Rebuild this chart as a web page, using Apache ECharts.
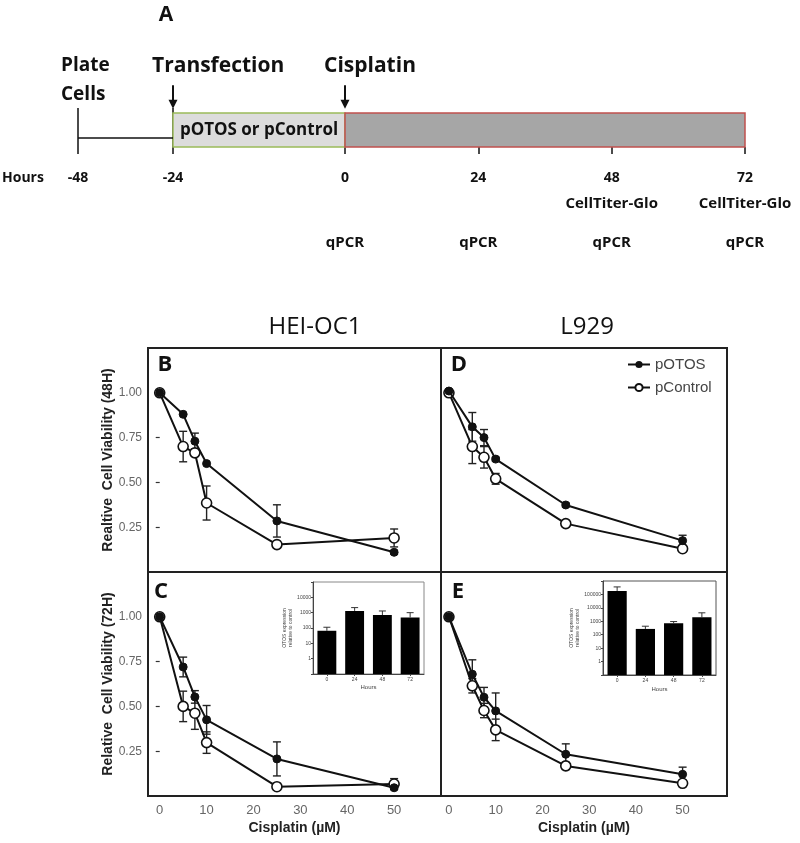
<!DOCTYPE html>
<html><head><meta charset="utf-8">
<script src="https://cdn.jsdelivr.net/npm/echarts@6/dist/echarts.min.js"></script>
<style>html,body{margin:0;padding:0;background:#fff}#c{width:800px;height:843px}</style>
</head><body><div id="c"></div>
<script>
// ---------- Panel A: timeline ----------
const timelineHours = [-48, -24, 0, 24, 48, 72];
const phaseLabels = ['pOTOS or pControl', ''];
const phaseFrom = [-24, 0];
const phaseTo = [0, 72];
const arrowHours = [-24, 0];
const plateHour = -48;
const cellTiterHours = [48, 72];
const qpcrHours = [0, 24, 48, 72];

// ---------- Panels B-E: viability ----------
const doses = [0, 5, 7.5, 10, 25, 50];
const hei48Potos = [1.00, 0.88, 0.73, 0.605, 0.285, 0.11];
const hei48PotosErr = [0, 0, 0.045, 0, 0.09, 0.01];
const hei48Ctrl = [1.00, 0.70, 0.665, 0.385, 0.153, 0.19];
const hei48CtrlErr = [0, 0.085, 0.02, 0.095, 0.01, 0.05];

const l48Potos = [1.01, 0.81, 0.75, 0.63, 0.374, 0.175];
const l48PotosErr = [0, 0.08, 0.045, 0.01, 0.01, 0.03];
const l48Ctrl = [1.00, 0.70, 0.64, 0.52, 0.27, 0.13];
const l48CtrlErr = [0, 0.095, 0.06, 0.03, 0.01, 0.01];

const hei72Potos = [1.00, 0.72, 0.553, 0.425, 0.207, 0.046];
const hei72PotosErr = [0, 0.055, 0.035, 0.08, 0.095, 0.01];
const hei72Ctrl = [1.00, 0.50, 0.462, 0.298, 0.052, 0.067];
const hei72CtrlErr = [0, 0.085, 0.09, 0.06, 0.01, 0.03];

const l72Potos = [1.00, 0.68, 0.551, 0.475, 0.233, 0.121];
const l72PotosErr = [0, 0.08, 0.055, 0.10, 0.058, 0.04];
const l72Ctrl = [1.00, 0.615, 0.477, 0.369, 0.168, 0.071];
const l72CtrlErr = [0, 0.04, 0.04, 0.06, 0.02, 0.01];

const doseTicks = [0, 10, 20, 30, 40, 50];
const viabilityTicks = [0.25, 0.50, 0.75, 1.00];

// ---------- Insets: OTOS expression ----------
const insetHours = ['0', '24', '48', '72'];
const heiInset = [66, 1300, 700, 490];
const heiInsetErr = [46, 840, 590, 510];
const l929Inset = [182000, 270, 720, 2000];
const l929InsetErr = [181000, 160, 235, 2270];

// ---------- layout / style constants ----------
const BOX_TOP_V = 0.554, BOX_BOT_V = 0.095, LINE_V = 0.216, ARROW_TOP_V = 0.93, ARROW_BOT_V = 0.61;
const TLF = '"Open Sans", "DejaVu Sans", sans-serif';
const PF = '"Liberation Sans", Arial, sans-serif';

const chart = echarts.init(document.getElementById('c'), null, {renderer: 'canvas'});

function tlLabel(show) {
  return {
    show: true, showMinLabel: true, showMaxLabel: true, margin: 12,
    formatter: function (v) {
      if (!show.includes(v)) return '';
      const lines = ['{a|' + v + '}'];
      lines.push(cellTiterHours.includes(v) ? '{b|CellTiter-Glo}' : '{b| }');
      if (qpcrHours.includes(v)) lines.push('{c|qPCR}');
      return lines.join('\n');
    },
    rich: {
      a: {fontFamily: TLF, fontWeight: 'bold', fontSize: 14, lineHeight: 25, color: '#111'},
      b: {fontFamily: TLF, fontWeight: 'bold', fontSize: 15, lineHeight: 25, color: '#111'},
      c: {fontFamily: TLF, fontWeight: 'bold', fontSize: 15, lineHeight: 53, color: '#111'}
    }
  };
}

function phaseRender(i, fill, stroke) {
  return function (params, api) {
    const a = api.coord([api.value(0), BOX_TOP_V]);
    const b = api.coord([api.value(1), BOX_BOT_V]);
    return {
      type: 'rect',
      shape: {x: a[0], y: a[1], width: b[0] - a[0], height: b[1] - a[1]},
      style: {fill: fill, stroke: stroke, lineWidth: 1.5},
      textContent: {style: {text: phaseLabels[i], fontFamily: TLF, fontWeight: 'bold', fontSize: 17, fill: '#111'}},
      textConfig: {position: 'inside'}
    };
  };
}

function arrowRender(params, api) {
  const h = api.value(0);
  const t = api.coord([h, ARROW_TOP_V]);
  const b = api.coord([h, ARROW_BOT_V]);
  return {
    type: 'group', children: [
      {type: 'line', shape: {x1: t[0], y1: t[1], x2: b[0], y2: b[1] - 6}, style: {stroke: '#111', lineWidth: 2}},
      {type: 'polygon', shape: {points: [[b[0] - 4.5, b[1] - 9], [b[0] + 4.5, b[1] - 9], [b[0], b[1]]]}, style: {fill: '#111'}}
    ]
  };
}

function errRender(params, api) {
  const x = api.value(0), y = api.value(1), e = api.value(2);
  if (!e) return null;
  const p1 = api.coord([x, y + e]), p2 = api.coord([x, y - e]);
  const w = 4, st = {stroke: '#222', lineWidth: 1.4};
  return {type: 'group', children: [
    {type: 'line', shape: {x1: p1[0], y1: p1[1], x2: p2[0], y2: p2[1]}, style: st},
    {type: 'line', shape: {x1: p1[0] - w, y1: p1[1], x2: p1[0] + w, y2: p1[1]}, style: st},
    {type: 'line', shape: {x1: p2[0] - w, y1: p2[1], x2: p2[0] + w, y2: p2[1]}, style: st}
  ]};
}

function insetBarRender(minV) {
  return function (params, api) {
    const i = api.value(0), v = api.value(1), e = api.value(2);
    const c0 = api.coord([0, v])[0], c1 = api.coord([1, v])[0];
    const bw = (c1 - c0) * 0.68;
    const top = api.coord([i, v]);
    const bot = api.coord([i, minV]);
    const et = api.coord([i, v + e]);
    const st = {stroke: '#333', lineWidth: 1};
    return {type: 'group', children: [
      {type: 'line', shape: {x1: top[0], y1: top[1], x2: et[0], y2: et[1]}, style: st},
      {type: 'line', shape: {x1: et[0] - 3.5, y1: et[1], x2: et[0] + 3.5, y2: et[1]}, style: st},
      {type: 'rect', shape: {x: top[0] - bw / 2, y: top[1], width: bw, height: bot[1] - top[1]}, style: {fill: '#000'}}
    ]};
  };
}

function panelSeries(ax, potos, potosErr, ctrl, ctrlErr) {
  const mk = (vals, errs) => doses.map((d, i) => [d, vals[i], errs[i]]);
  return [
    {type: 'custom', xAxisIndex: ax, yAxisIndex: ax, data: mk(ctrl, ctrlErr), renderItem: errRender, z: 2, silent: true},
    {type: 'custom', xAxisIndex: ax, yAxisIndex: ax, data: mk(potos, potosErr), renderItem: errRender, z: 2, silent: true},
    {type: 'line', name: 'pControl', xAxisIndex: ax, yAxisIndex: ax, data: doses.map((d, i) => [d, ctrl[i]]),
      symbol: 'circle', symbolSize: 10, lineStyle: {color: '#111', width: 2},
      itemStyle: {color: '#fff', borderColor: '#111', borderWidth: 1.6}, z: 3},
    {type: 'line', name: 'pOTOS', xAxisIndex: ax, yAxisIndex: ax, data: doses.map((d, i) => [d, potos[i]]),
      symbol: 'circle', symbolSize: 8, lineStyle: {color: '#111', width: 2},
      itemStyle: {color: '#111', borderColor: '#111'}, z: 4}
  ];
}

const frame = {show: true, borderColor: '#222', borderWidth: 2, backgroundColor: 'transparent'};

function mainX(grid, min, max, labels) {
  return {
    gridIndex: grid, type: 'value', min: min, max: max,
    axisLine: {show: false}, splitLine: {show: false},
    axisTick: {show: false},
    axisLabel: labels ? {show: true, customValues: doseTicks, color: '#666', fontSize: 13, fontFamily: PF, margin: 8} : {show: false},
    name: labels ? 'Cisplatin (µM)' : '', nameLocation: 'middle', nameGap: 25,
    nameTextStyle: {fontFamily: PF, fontWeight: 'bold', fontSize: 14, color: '#222'}
  };
}
function mainY(grid, name) {
  return {
    gridIndex: grid, type: 'value', min: 0, max: 1.25, interval: 0.25,
    axisLine: {show: false}, splitLine: {show: false},
    axisTick: name ? {show: true, customValues: viabilityTicks, length: 4, lineStyle: {color: '#333', width: 1.2}} : {show: false},
    axisLabel: name ? {show: true, customValues: viabilityTicks, formatter: v => v.toFixed(2), color: '#666', fontSize: 12, fontFamily: PF, margin: 6} : {show: false},
    name: name || '', nameLocation: 'middle', nameGap: 31,
    nameTextStyle: {fontFamily: PF, fontWeight: 'bold', fontSize: 14, color: '#222'}
  };
}
function insetX(grid, gap) {
  return {
    gridIndex: grid, type: 'category', data: insetHours,
    axisLine: {show: true, lineStyle: {color: '#444', width: 1}},
    axisTick: {show: true, alignWithLabel: true, length: 2, lineStyle: {color: '#444'}},
    axisLabel: {fontSize: 5, color: '#444', margin: 3, fontFamily: PF},
    name: 'Hours', nameLocation: 'middle', nameGap: gap,
    nameTextStyle: {fontSize: 6, color: '#444', fontFamily: PF}
  };
}
function insetY(grid, max, top, gap) {
  return {
    gridIndex: grid, type: 'log', logBase: 10, min: 0.1, max: max,
    axisLine: {show: true, lineStyle: {color: '#444', width: 1}},
    axisTick: {show: true, length: 2, lineStyle: {color: '#444'}},
    splitLine: {show: false},
    axisLabel: {fontSize: 5, color: '#444', margin: 2, fontFamily: PF,
      formatter: v => (v >= 1 && v <= top) ? String(Math.round(v)) : ''},
    name: 'OTOS expression\nrelative to control', nameLocation: 'middle', nameGap: gap,
    nameTextStyle: {fontSize: 5, color: '#444', fontFamily: PF, lineHeight: 6}
  };
}

const series = [
  // timeline
  {type: 'line', xAxisIndex: 0, yAxisIndex: 0, data: [[plateHour, LINE_V], [phaseFrom[0], LINE_V]],
    symbol: 'none', lineStyle: {color: '#111', width: 1.5}, silent: true},
  {type: 'custom', xAxisIndex: 1, yAxisIndex: 1, data: [[phaseFrom[0], phaseTo[0]]], renderItem: phaseRender(0, '#dcdcdc', '#9bbb59'), silent: true, z: 2},
  {type: 'custom', xAxisIndex: 2, yAxisIndex: 2, data: [[phaseFrom[1], phaseTo[1]]], renderItem: phaseRender(1, '#a6a6a6', '#c0504d'), silent: true, z: 2},
  {type: 'custom', xAxisIndex: 1, yAxisIndex: 1, data: arrowHours.map(h => [h]), renderItem: arrowRender, silent: true, z: 3, clip: false},
  // panels
  ...panelSeries(3, hei48Potos, hei48PotosErr, hei48Ctrl, hei48CtrlErr),
  ...panelSeries(4, hei72Potos, hei72PotosErr, hei72Ctrl, hei72CtrlErr),
  ...panelSeries(5, l48Potos, l48PotosErr, l48Ctrl, l48CtrlErr),
  ...panelSeries(6, l72Potos, l72PotosErr, l72Ctrl, l72CtrlErr),
  // insets
  {type: 'custom', xAxisIndex: 7, yAxisIndex: 7, data: heiInset.map((v, i) => [i, v, heiInsetErr[i]]), renderItem: insetBarRender(0.1), silent: true, z: 5},
  {type: 'custom', xAxisIndex: 8, yAxisIndex: 8, data: l929Inset.map((v, i) => [i, v, l929InsetErr[i]]), renderItem: insetBarRender(0.1), silent: true, z: 5}
];

const txt = (text, x, y, size, weight, align, family, color) => ({
  type: 'text', x: x, y: y, silent: true,
  style: {text: text, fontSize: size, fontWeight: weight, fontFamily: family || TLF, fill: color || '#111',
    textAlign: align || 'center', textVerticalAlign: 'middle'}
});

const option = {
  animation: false,
  backgroundColor: '#fff',
  grid: [
    {left: 78, top: 80, width: 95, height: 74},
    {left: 173, top: 80, width: 172, height: 74},
    {left: 345, top: 80, width: 400, height: 74},
    Object.assign({left: 148, top: 348, width: 293, height: 224}, frame),
    Object.assign({left: 148, top: 572, width: 293, height: 224}, frame),
    Object.assign({left: 441, top: 348, width: 286, height: 224}, frame),
    Object.assign({left: 441, top: 572, width: 286, height: 224}, frame),
    {left: 313, top: 582, width: 111, height: 92, show: true, borderColor: '#888', borderWidth: 1},
    {left: 603, top: 581, width: 113, height: 94, show: true, borderColor: '#555', borderWidth: 1}
  ],
  xAxis: [
    {gridIndex: 0, type: 'value', min: -48, max: -24, interval: 24, axisLine: {show: false}, splitLine: {show: false},
      axisTick: {show: true, inside: true, length: 46, lineStyle: {color: '#111', width: 1.5}}, axisLabel: tlLabel([-48])},
    {gridIndex: 1, type: 'value', min: -24, max: 0, interval: 24, axisLine: {show: false}, splitLine: {show: false},
      axisTick: {show: false}, axisLabel: tlLabel([-24])},
    {gridIndex: 2, type: 'value', min: 0, max: 72, interval: 24, axisLine: {show: false}, splitLine: {show: false},
      axisTick: {show: true, inside: true, length: 7, lineStyle: {color: '#111', width: 1.5}}, axisLabel: tlLabel(timelineHours.filter(h => h >= 0))},
    mainX(3, -2.5, 60, false),
    mainX(4, -2.5, 60, true),
    mainX(5, -1.7, 59.5, false),
    mainX(6, -1.7, 59.5, true),
    insetX(7, 10),
    insetX(8, 11)
  ],
  yAxis: [
    {gridIndex: 0, type: 'value', min: 0, max: 1, show: false},
    {gridIndex: 1, type: 'value', min: 0, max: 1, show: false},
    {gridIndex: 2, type: 'value', min: 0, max: 1, show: false},
    mainY(3, 'Realtive  Cell Viability (48H)'),
    mainY(4, 'Relative  Cell Viability (72H)'),
    mainY(5, null),
    mainY(6, null),
    insetY(7, 1e5, 1e4, 14),
    insetY(8, 1e6, 1e5, 20)
  ],
  legend: {
    data: ['pOTOS', 'pControl'], orient: 'vertical', left: 622, top: 352,
    itemWidth: 22, itemHeight: 9, itemGap: 8,
    textStyle: {fontSize: 15, color: '#444', fontFamily: PF}
  },
  graphic: [
    txt('A', 166, 15, 21, 'bold'),
    txt('Plate', 61, 66, 19, 'bold', 'left'),
    txt('Cells', 61, 95, 19, 'bold', 'left'),
    txt('Transfection', 152, 66, 21, 'bold', 'left'),
    txt('Cisplatin', 324, 66, 21, 'bold', 'left'),
    txt('Hours', 2, 178, 14, 'bold', 'left'),
    txt('HEI-OC1', 315, 327, 24, 'normal'),
    txt('L929', 587, 327, 24, 'normal'),
    txt('B', 165, 365, 22, 'bold'),
    txt('C', 161, 592, 22, 'bold'),
    txt('D', 459, 365, 22, 'bold'),
    txt('E', 458, 592, 22, 'bold')
  ],
  series: series
};
chart.setOption(option);
</script>
</body></html>
